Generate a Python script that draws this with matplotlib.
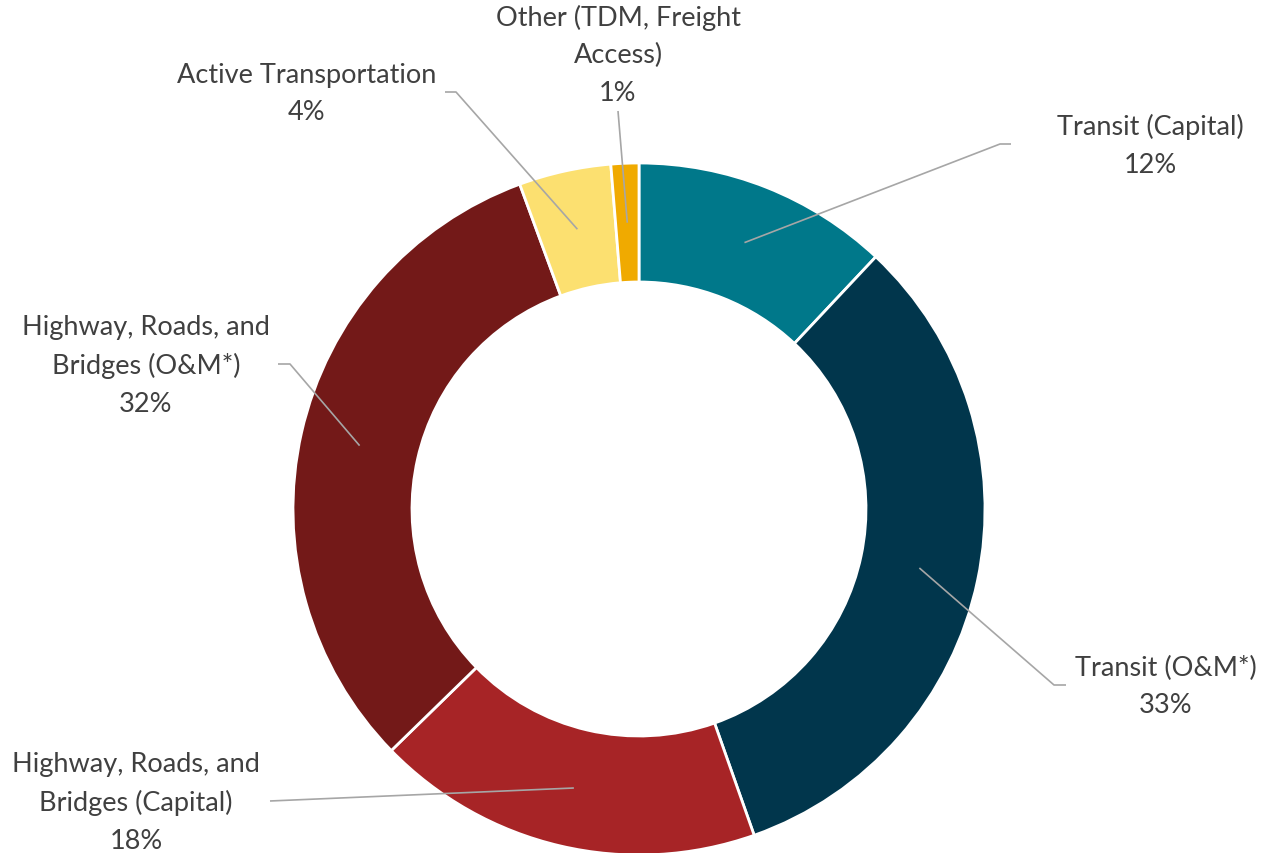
import numpy as np
import matplotlib.pyplot as plt

# shares in percent, clockwise from 12 o'clock
labels = ['Transit (Capital)', 'Transit (O&M*)',
          'Highway, Roads, and\nBridges (Capital)',
          'Highway, Roads, and\nBridges (O&M*)',
          'Active Transportation', 'Other (TDM, Freight\nAccess)']
values = [12.0, 32.6, 18.1, 31.7, 4.3, 1.3]
colors = ['#00788A', '#01364C', '#A72426', '#731918', '#FCE070', '#F0AA00']

# label text centre and leader elbow, in pixels (y down from top)
label_pos = [(1150, 146), (1166, 687), (136, 803), (146, 366), (307, 94), (618, 55)]
elbow_pos = [[(1000, 145), (1011, 145)], [(1054, 686), (1066, 686)],
             [(270, 802)], [(290, 365), (278, 365)],
             [(456, 93), (445, 93)], [(618, 112)]]

W, H = 1286, 854
cx, cy = 639, 510
r_out, r_in = 346, 227


def main():
    plt.rcParams['font.family'] = ['Lato', 'DejaVu Sans']
    fig = plt.figure(figsize=(W / 100, H / 100), dpi=100)
    ax = fig.add_axes([0, 0, 1, 1])

    ax.pie(values, colors=colors, startangle=90, counterclock=False,
           center=(cx, H - cy), radius=r_out, frame=True,
           wedgeprops=dict(width=r_out - r_in, edgecolor='white', linewidth=2))
    ax.set_xlim(0, W)
    ax.set_ylim(0, H)
    ax.set_aspect('equal')
    ax.axis('off')

    total = sum(values)
    cum = np.cumsum([0] + values)
    r_mid = (r_out + r_in) / 2
    for i, lab in enumerate(labels):
        mid = (cum[i] + values[i] / 2) / total * 2 * np.pi
        sx = cx + r_mid * np.sin(mid)
        sy = cy - r_mid * np.cos(mid)
        pts = [(sx, sy)] + elbow_pos[i]
        ax.plot([p[0] for p in pts], [H - p[1] for p in pts],
                color='#A6A6A6', lw=1.2, solid_capstyle='butt')
        pct = f'{round(values[i] / total * 100):.0f}%'
        lx, ly = label_pos[i]
        ax.text(lx, H - ly, lab + '\n' + pct, ha='center', va='center',
                fontsize=19.5, color='#404040', linespacing=1.62)

    fig.savefig('out.png', dpi=100)


if __name__ == '__main__':
    main()
